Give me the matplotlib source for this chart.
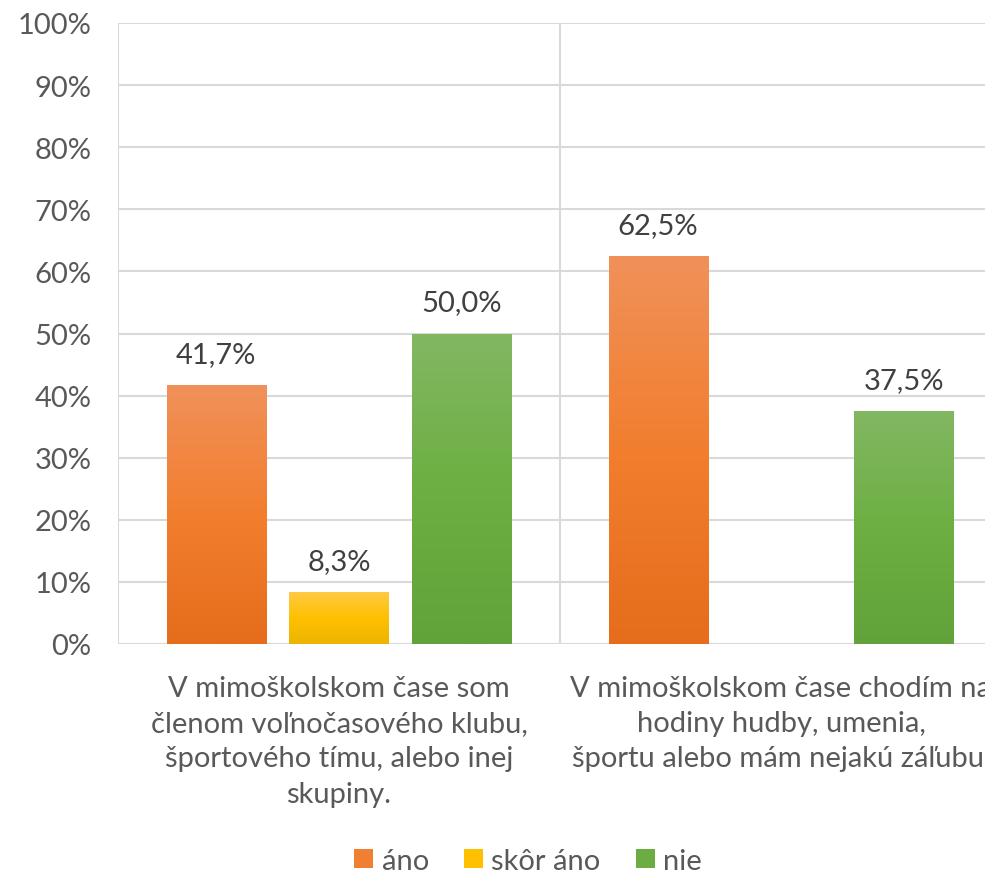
import numpy as np
import matplotlib
matplotlib.use("Agg")
import matplotlib.pyplot as plt
from matplotlib.colors import LinearSegmentedColormap
from matplotlib.patches import Patch

categories = [
    "V mimoškolskom čase som\nčlenom voľnočasového klubu,\nšportového tímu, alebo inej\nskupiny.",
    "V mimoškolskom čase chodím na\nhodiny hudby, umenia,\nšportu alebo mám nejakú záľubu.",
]
series_names = ["áno", "skôr áno", "nie"]
ano = [41.7, 62.5]
skor_ano = [8.3, np.nan]
nie = [50.0, 37.5]
yticks = [0, 10, 20, 30, 40, 50, 60, 70, 80, 90, 100]

series = [ano, skor_ano, nie]
grads = [
    ("#F0915A", "#F27E2E", "#E56D1C"),
    ("#FFC944", "#FFC000", "#ECB400"),
    ("#82B763", "#6DAF42", "#62A23A"),
]
legend_colors = ["#F07F34", "#FFC000", "#6BAD42"]

plt.rcParams['font.family'] = ['Lato', 'DejaVu Sans']
FS = 21

fig = plt.figure(figsize=(9.85, 8.78), dpi=100)
ax = fig.add_axes([118/985, 233/878, 884/985, 621/878])

x = np.arange(len(categories))
width = 0.224
offsets = [-0.278, 0.0, 0.278]
for vals, off, (c1, c2, c3) in zip(series, offsets, grads):
    cmap = LinearSegmentedColormap.from_list("g", [c3, c2, c1])
    bars = ax.bar(x + off, vals, width, color=c2, zorder=3)
    for b, v in zip(bars, vals):
        if np.isnan(v):
            continue
        x0, y0 = b.get_x(), b.get_y()
        w, h = b.get_width(), b.get_height()
        grad = np.linspace(0, 1, 256).reshape(-1, 1)
        im = ax.imshow(grad, cmap=cmap, origin="lower", aspect="auto",
                       extent=[x0, x0 + w, y0, y0 + h], zorder=4)
        im.set_clip_path(b)
        ax.annotate(f"{v:.1f}%".replace(".", ","), (x0 + w / 2, v),
                    xytext=(0, 13), textcoords="offset points",
                    ha="center", va="bottom", fontsize=FS, color="#404040",
                    zorder=5)

ax.set_xlim(-0.5, 1.5)
ax.set_ylim(0, 100)
ax.set_yticks(yticks)
ax.set_yticklabels([f"{t}%" for t in yticks], fontsize=FS, color="#595959")
ax.set_xticks(x)
ax.set_xticklabels(categories, fontsize=FS, color="#595959", linespacing=1.45)
ax.tick_params(length=0)
ax.tick_params(axis="y", pad=19)
ax.tick_params(axis="x", pad=22)
for s in ax.spines.values():
    s.set_visible(False)
ax.grid(axis="y", color="#D9D9D9", linewidth=1.5, zorder=0)
for xv in [-0.5, 0.5, 1.5]:
    ax.axvline(xv, color="#D9D9D9", linewidth=1.5, zorder=0)
ax.axhline(0, color="#D9D9D9", linewidth=1.5, zorder=2)

handles = [Patch(facecolor=c, edgecolor="none") for c in legend_colors]
fig.legend(handles, series_names, loc="center", bbox_to_anchor=(528/985, 1 - 862/878),
           ncol=3, frameon=False, fontsize=FS, labelcolor="#595959",
           handlelength=0.65, handleheight=0.65, handletextpad=0.3, columnspacing=1.2)

fig.savefig("out.png", dpi=100)
